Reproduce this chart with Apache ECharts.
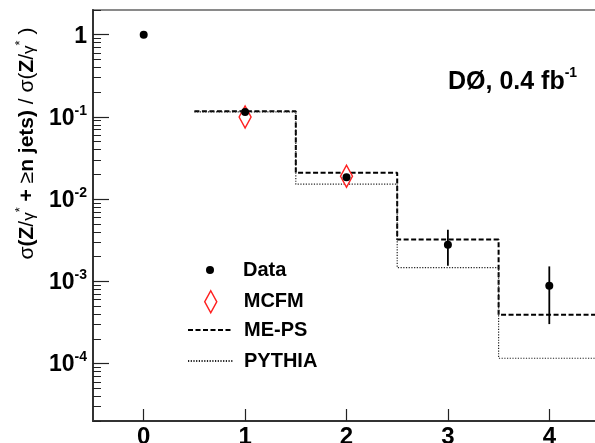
<!DOCTYPE html>
<html><head><meta charset="utf-8">
<script src="https://cdn.jsdelivr.net/npm/echarts@6/dist/echarts.min.js"></script>
<style>html,body{margin:0;padding:0;background:#fff}#c{width:595px;height:443px}</style>
</head><body><div id="c"></div>
<script>
// ---- data ----
const nJets = [0, 1, 2, 3, 4];
const dataValues = [1.0, 0.115, 0.0185, 0.00278, 0.000887];
const dataErrLow = [1.0, 0.112, 0.0180, 0.00155, 0.000302];
const dataErrHigh = [1.0, 0.118, 0.0190, 0.00424, 0.00152];
const mcfmN = [1, 2];
const mcfmValues = [0.1, 0.019];
const binEdges = [0.5, 1.5, 2.5, 3.5, 4.5];
const mepsValues = [0.117, 0.021, 0.00322, 0.000393];
const pythiaValues = [0.115, 0.0152, 0.00147, 0.000116];
const xTickValues = [0, 1, 2, 3, 4];
const yMajorTicks = [1e-4, 1e-3, 1e-2, 1e-1, 1];
const yMinorMultipliers = [2, 3, 4, 5, 6, 7, 8, 9];
const yMinorDecades = [1e-5, 1e-4, 1e-3, 1e-2, 1e-1, 1];
const seriesNames = ['Data', 'MCFM', 'ME-PS', 'PYTHIA'];

const FONT = '"Liberation Sans", Arial, Helvetica, sans-serif';
const Y_MIN = 2e-5, Y_MAX = 2;

const yMinorTicks = [];
yMinorDecades.forEach(d => yMinorMultipliers.forEach(m => {
  const v = +(m * d).toPrecision(3);
  if (v >= Y_MIN && v <= Y_MAX) yMinorTicks.push(v);
}));

function histLine(vals) {
  const out = [];
  for (let i = 0; i < vals.length; i++) {
    out.push([binEdges[i], vals[i]], [binEdges[i + 1], vals[i]]);
  }
  return out;
}

const chart = echarts.init(document.getElementById('c'), null, {renderer: 'canvas'});

const legendText = {fontFamily: FONT, fontSize: 20, fontWeight: 'bold', color: '#000', lineHeight: 22};
const hiddenSymbol = {color: 'rgba(0,0,0,0)', borderColor: 'rgba(0,0,0,0)', borderWidth: 0, opacity: 0};

const option = {
  animation: false,
  backgroundColor: '#fff',
  title: {
    text: '{m|DØ, 0.4 fb}{s|-1}',
    left: 448, top: 66, padding: 0,
    textStyle: {
      rich: {
        m: {fontFamily: FONT, fontSize: 25, fontWeight: 'bold', color: '#000', lineHeight: 29, verticalAlign: 'bottom'},
        s: {fontFamily: FONT, fontSize: 14, fontWeight: 'bold', color: '#000', lineHeight: 14, verticalAlign: 'top'}
      }
    }
  },
  grid: {
    left: 93, right: -5, top: 10, bottom: 22,
    show: true, borderColor: '#8a8a8a', borderWidth: 2, backgroundColor: 'transparent',
    outerBoundsMode: 'none'
  },
  legend: [
    {data: [seriesNames[0]], orient: 'vertical', left: 206, top: 259, padding: 0, itemGap: 0,
     selectedMode: false, icon: 'circle', itemWidth: 8, itemHeight: 8,
     itemStyle: {color: '#000', opacity: 1},
     textStyle: Object.assign({padding: [0, 0, 0, 24]}, legendText)},
    {data: [seriesNames[1]], orient: 'vertical', left: 204, top: 290, padding: 0, itemGap: 0,
     selectedMode: false, icon: 'path://M6,0 L12,11 L6,22 L0,11 Z', itemWidth: 12, itemHeight: 22,
     itemStyle: {color: '#fff', borderColor: '#ff2020', borderWidth: 1.5, opacity: 1},
     textStyle: Object.assign({padding: [0, 0, 0, 22]}, legendText)},
    {data: [seriesNames[2]], orient: 'vertical', left: 187, top: 319, padding: 0, itemGap: 0,
     selectedMode: false, itemWidth: 45, itemHeight: 14, itemStyle: hiddenSymbol,
     textStyle: Object.assign({padding: [0, 0, 0, 6]}, legendText)},
    {data: [seriesNames[3]], orient: 'vertical', left: 187, top: 350, padding: 0, itemGap: 0,
     selectedMode: false, itemWidth: 45, itemHeight: 14, itemStyle: hiddenSymbol,
     textStyle: Object.assign({padding: [0, 0, 0, 6]}, legendText)}
  ],
  xAxis: {
    type: 'value', min: -0.5, max: 4.5,
    axisLine: {show: true, onZero: false, lineStyle: {color: '#333', width: 2}},
    axisTick: {show: true, inside: true, length: 12, customValues: xTickValues, lineStyle: {color: '#222', width: 1.2}},
    axisLabel: {show: true, customValues: xTickValues, margin: 4, fontFamily: FONT, fontSize: 24, fontWeight: 'bold', color: '#000'},
    splitLine: {show: false}
  },
  yAxis: [
    {
      type: 'log', logBase: 10, min: Y_MIN, max: Y_MAX, position: 'left',
      name: '{r|σ}{b|(Z}{r|/}{g|γ}{sup|*}{b| + }{r|≥}{b|n jets)}{r| / σ(}{b|Z}{r|/}{g|γ}{sup|*}{r| )}',
      nameLocation: 'middle', nameRotate: 90, nameGap: 49,
      nameTextStyle: {
        padding: [0, 0, 0, 144],
        rich: {
          r: {fontFamily: FONT, fontSize: 21, color: '#000', lineHeight: 24, verticalAlign: 'bottom'},
          b: {fontFamily: FONT, fontSize: 21, fontWeight: 'bold', color: '#000', lineHeight: 24, verticalAlign: 'bottom'},
          g: {fontFamily: FONT, fontSize: 17, color: '#000', lineHeight: 24, verticalAlign: 'bottom'},
          sup: {fontFamily: FONT, fontSize: 13, color: '#000', lineHeight: 13, verticalAlign: 'top'}
        }
      },
      axisLine: {show: true, onZero: false, lineStyle: {color: '#333', width: 2}},
      axisTick: {show: true, inside: true, length: 16, customValues: yMajorTicks, lineStyle: {color: '#222', width: 1.2}},
      axisLabel: {
        show: true, customValues: yMajorTicks, margin: 6,
        formatter: v => {
          const e = Math.round(Math.log10(v));
          return e === 0 ? '{b|1}' : '{b|10}{s|' + e + '}';
        },
        rich: {
          b: {fontFamily: FONT, fontSize: 23, fontWeight: 'bold', color: '#000', lineHeight: 26, verticalAlign: 'bottom'},
          s: {fontFamily: FONT, fontSize: 14, fontWeight: 'bold', color: '#000', lineHeight: 14, verticalAlign: 'top'}
        }
      },
      splitLine: {show: false}
    },
    {
      type: 'log', logBase: 10, min: Y_MIN, max: Y_MAX, position: 'left', offset: 0,
      axisLine: {show: false, onZero: false},
      axisTick: {show: true, inside: true, length: 8, customValues: yMinorTicks, lineStyle: {color: '#222', width: 1}},
      axisLabel: {show: false},
      splitLine: {show: false}
    }
  ],
  series: [
    {
      name: 'ME-PS', type: 'line', symbol: 'none', yAxisIndex: 0,
      data: histLine(mepsValues),
      lineStyle: {color: '#000', width: 2, type: [5, 2.5]},
      itemStyle: {color: '#000'}, z: 2
    },
    {
      name: 'PYTHIA', type: 'line', symbol: 'none', yAxisIndex: 0,
      data: histLine(pythiaValues),
      lineStyle: {color: '#222', width: 1.2, type: [1.2, 1.5]},
      itemStyle: {color: '#222'}, z: 2
    },
    {
      name: 'MCFM', type: 'scatter', symbol: 'diamond', symbolSize: [12, 22], yAxisIndex: 0,
      data: mcfmN.map((n, i) => [n, mcfmValues[i]]),
      itemStyle: {color: '#fff', borderColor: '#ff2020', borderWidth: 1.5, opacity: 1}, z: 3
    },
    {
      name: 'errbars', type: 'custom', yAxisIndex: 0, z: 4,
      data: nJets.map((n, i) => [n, dataErrLow[i], dataErrHigh[i]]),
      renderItem: (params, api) => {
        const x = api.value(0);
        const p1 = api.coord([x, api.value(1)]);
        const p2 = api.coord([x, api.value(2)]);
        return {type: 'line', shape: {x1: p1[0], y1: p1[1], x2: p2[0], y2: p2[1]},
                style: {stroke: '#000', lineWidth: 1.8}};
      },
      encode: {x: 0, y: [1, 2]}
    },
    {
      name: 'Data', type: 'scatter', symbol: 'circle', symbolSize: 8, yAxisIndex: 0,
      data: nJets.map((n, i) => [n, dataValues[i]]),
      itemStyle: {color: '#000', opacity: 1}, z: 5
    }
  ]
};
chart.setOption(option);
</script>
</body></html>
